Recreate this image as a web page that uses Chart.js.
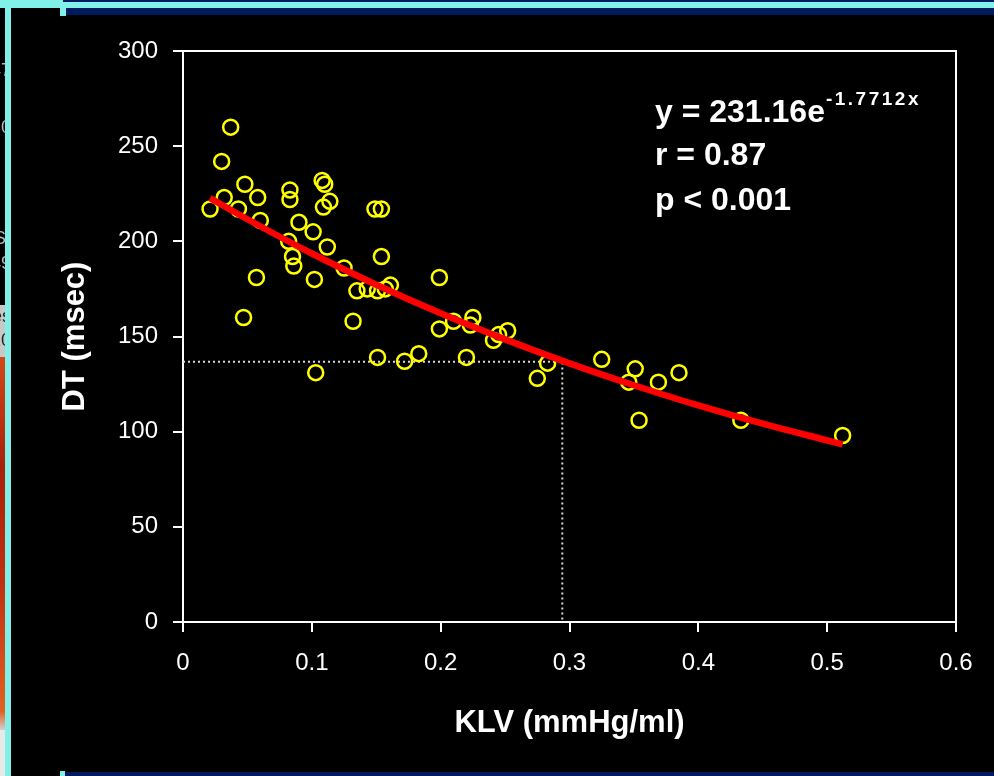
<!DOCTYPE html>
<html>
<head>
<meta charset="utf-8">
<script src="https://cdn.jsdelivr.net/npm/chart.js@4.4.1/dist/chart.umd.min.js"></script>
<style>
  html, body { margin: 0; padding: 0; background: #000; }
  #wrap { position: relative; width: 994px; height: 776px; overflow: hidden; background: #000; }
  #chartBox { position: absolute; left: 0; top: 0; width: 994px; height: 776px; }
  .deco { position: absolute; }
  .frag { position: absolute; left: 0; width: 5px; overflow: hidden; font: 18px 'Liberation Sans', Arial, sans-serif; color: #b8b8b8; }
  .frag span { position: absolute; right: -6px; white-space: nowrap; }
</style>
</head>
<body>
<div id="wrap">
  <div id="chartBox"><canvas id="c"></canvas></div>

  <!-- slide frame remnants -->
  <div class="deco" style="left:63px;top:0;width:931px;height:2px;background:#001a66"></div>
  <div class="deco" style="left:0;top:0;width:63px;height:2px;background:#80f0e8"></div>
  <div class="deco" style="left:0;top:2px;width:994px;height:6px;background:#80f0e8"></div>
  <div class="deco" style="left:66px;top:8px;width:928px;height:7px;background:#001a5e"></div>
  <div class="deco" style="left:60px;top:8px;width:6px;height:8px;background:#80f0e8"></div>
  <div class="deco" style="left:5px;top:0;width:6px;height:776px;background:#80f0e8"></div>
  <div class="deco" style="left:65px;top:772px;width:929px;height:4px;background:#001a5e"></div>
  <div class="deco" style="left:60px;top:771px;width:5px;height:5px;background:#80f0e8"></div>
  <div class="deco" style="left:0;top:305px;width:5px;height:52px;background:#c8c8c8"></div>
  <div class="deco" style="left:0;top:357px;width:5px;height:373px;background:linear-gradient(#d04818,#a82008 30%,#c03010 60%,#e06020 95%,#d0d0d0)"></div>
  <div class="deco" style="left:0;top:730px;width:5px;height:46px;background:#e8e8e8"></div>
  <div class="frag" style="top:60px;height:24px"><span>47</span></div>
  <div class="frag" style="top:117px;height:24px"><span>30</span></div>
  <div class="frag" style="top:228px;height:24px"><span>S:</span></div>
  <div class="frag" style="top:253px;height:24px"><span>49</span></div>
  <div class="frag" style="top:306px;height:24px;color:#222"><span>es</span></div>
  <div class="frag" style="top:330px;height:24px;color:#222"><span>20</span></div>
</div>

<script>
// KLV (mmHg/ml) vs DT (msec)
const klv = [0.021, 0.030, 0.037, 0.032, 0.043, 0.048, 0.058, 0.060, 0.057, 0.047,
             0.083, 0.083, 0.090, 0.082, 0.085, 0.086, 0.101, 0.102, 0.103, 0.108,
             0.110, 0.109, 0.114, 0.112, 0.125, 0.135, 0.132, 0.149, 0.154, 0.154,
             0.143, 0.151, 0.157, 0.161, 0.151, 0.172, 0.183, 0.199, 0.199, 0.210,
             0.220, 0.223, 0.225, 0.241, 0.245, 0.252, 0.275, 0.283, 0.325, 0.346,
             0.351, 0.354, 0.369, 0.385, 0.433, 0.512];
const dt  = [217, 242, 260, 223, 217, 230, 223, 211, 181, 160,
             227, 222, 210, 200, 192, 187, 205, 180, 131, 232,
             230, 218, 221, 197, 186, 174, 158, 217, 217, 192,
             175, 174, 175, 177, 139, 137, 141, 181, 154, 158,
             139, 156, 160, 148, 151, 153, 128, 136, 138, 126,
             133, 106, 126, 131, 106, 98];

// fitted curve as drawn
const fitX = [0.021, 0.05, 0.10, 0.15, 0.20, 0.25, 0.30, 0.35, 0.40, 0.45, 0.50, 0.512];
const fitY = [222.7, 211.6, 193.6, 177.2, 162.2, 148.5, 135.9, 124.4, 113.8, 104.2, 95.4, 93.3];

// dotted reference lines
const refX = [0, 0.2944, 0.2944];
const refY = [136.7, 136.7, 0];

const xTicks = ['0', '0.1', '0.2', '0.3', '0.4', '0.5', '0.6'];
const yTicks = ['0', '50', '100', '150', '200', '250', '300'];

const eqLines = ['y = 231.16e', 'r = 0.87', 'p < 0.001'];
const eqExp = '-1.7712x';

const pts = (xs, ys) => xs.map((x, i) => ({ x: x, y: ys[i] }));

const FONT = "'Liberation Sans', Arial, sans-serif";

const framePlugin = {
  id: 'frame',
  beforeDatasetsDraw(chart) {
    const { ctx, chartArea: a } = chart;
    ctx.save();
    ctx.strokeStyle = '#ffffff';
    ctx.lineWidth = 2;
    ctx.beginPath();
    ctx.moveTo(a.left, a.top);
    ctx.lineTo(a.right, a.top);
    ctx.lineTo(a.right, a.bottom);
    ctx.stroke();
    ctx.restore();
  },
  afterDraw(chart) {
    const { ctx, chartArea: a } = chart;
    ctx.save();
    ctx.fillStyle = '#ffffff';
    ctx.textBaseline = 'alphabetic';
    ctx.textAlign = 'left';
    ctx.font = 'bold 32px ' + FONT;
    const x0 = a.left + 472;
    const base = [a.top + 71, a.top + 114, a.top + 159];
    eqLines.forEach((t, i) => ctx.fillText(t, x0, base[i]));
    const w = ctx.measureText(eqLines[0]).width;
    ctx.font = 'bold 19px ' + FONT;
    ctx.letterSpacing = '2.5px';
    ctx.fillText(eqExp, x0 + w + 1, a.top + 54);
    ctx.restore();
  }
};

new Chart(document.getElementById('c'), {
  data: {
    datasets: [
      {
        type: 'line',
        label: 'fit',
        data: pts(fitX, fitY),
        borderColor: '#ff0000',
        borderWidth: 6.5,
        pointRadius: 0,
        cubicInterpolationMode: 'monotone',
        fill: false,
        order: 0
      },
      {
        type: 'scatter',
        label: 'DT',
        data: pts(klv, dt),
        pointStyle: 'circle',
        pointRadius: 7.5,
        pointBorderWidth: 2.5,
        borderColor: '#ffff00',
        backgroundColor: 'rgba(0,0,0,0)',
        order: 1
      },
      {
        type: 'line',
        label: 'ref',
        data: pts(refX, refY),
        borderColor: '#d8d8d8',
        borderWidth: 2,
        borderDash: [2, 3],
        pointRadius: 0,
        tension: 0,
        fill: false,
        order: 2
      }
    ]
  },
  options: {
    responsive: true,
    maintainAspectRatio: false,
    animation: false,
    layout: { padding: { left: 50, top: 51, right: 38, bottom: 30 } },
    plugins: {
      legend: { display: false },
      tooltip: { enabled: false }
    },
    scales: {
      x: {
        type: 'linear',
        min: 0,
        max: 0.6,
        afterFit: (s) => { s.height = 124; },
        afterBuildTicks: (s) => { s.ticks = xTicks.map(v => ({ value: parseFloat(v) })); },
        ticks: {
          color: '#ffffff',
          font: { family: FONT, size: 24 },
          padding: 17,
          maxRotation: 0,
          callback: (v, i) => xTicks[i]
        },
        grid: { drawOnChartArea: false, drawTicks: true, tickLength: 10, color: '#ffffff', lineWidth: 2 },
        border: { display: true, color: '#ffffff', width: 2 },
        title: {
          display: true,
          text: 'KLV (mmHg/ml)',
          color: '#ffffff',
          font: { family: FONT, size: 31, weight: 'bold' },
          padding: { top: 0, bottom: 4 }
        }
      },
      y: {
        type: 'linear',
        min: 0,
        max: 300,
        afterFit: (s) => { s.width = 133; },
        afterBuildTicks: (s) => { s.ticks = yTicks.map(v => ({ value: parseFloat(v) })); },
        ticks: {
          color: '#ffffff',
          font: { family: FONT, size: 24 },
          padding: 15,
          callback: (v, i) => yTicks[i]
        },
        grid: { drawOnChartArea: false, drawTicks: true, tickLength: 10, color: '#ffffff', lineWidth: 2 },
        border: { display: true, color: '#ffffff', width: 2 },
        title: {
          display: true,
          text: 'DT (msec)',
          color: '#ffffff',
          font: { family: FONT, size: 31, weight: 'bold' },
          padding: { top: 7, bottom: 0 }
        }
      }
    }
  },
  plugins: [framePlugin]
});
</script>
</body>
</html>
